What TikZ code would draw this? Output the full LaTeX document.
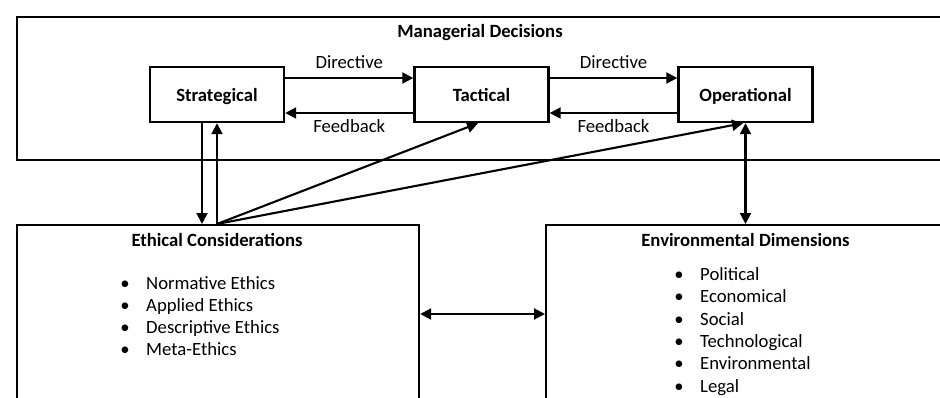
\documentclass[tikz,border=0pt]{standalone}
\usepackage{fontspec}
\setmainfont{Carlito}
\usetikzlibrary{arrows.meta}
\newcommand\mysize{\fontsize{18.7}{22.5}\selectfont}
\begin{document}
\begin{tikzpicture}[x=1pt,y=-1pt,
  box/.style={draw, line width=2.4pt, minimum width=134pt, minimum height=55pt, inner sep=0pt,
              font=\mysize\bfseries, text height=14pt, text depth=0pt},
  frame/.style={draw, line width=2.2pt, anchor=north west, inner sep=0pt},
  arr/.style={line width=2.1pt, -{Triangle[length=11pt,width=11pt]}},
  darr/.style={line width=2.1pt, {Triangle[length=11pt,width=11pt]}-{Triangle[length=11pt,width=11pt]}},
  lbl/.style={anchor=base, inner sep=0pt, font=\mysize},
  ttl/.style={anchor=base, inner sep=0pt, font=\mysize\bfseries},
  ]
\useasboundingbox (0,0) rectangle (940,397);

% frames
\node[frame, minimum width=960pt, minimum height=143pt] (mgr) at (16,16) {};
\node[ttl] (mgrt) at (480,37.5) {Managerial Decisions};
\node[frame, minimum width=402pt, minimum height=200pt] (eth) at (16,224) {};
\node[ttl] (etht) at (217,246) {Ethical Considerations};
\node[frame, minimum width=420pt, minimum height=200pt] (env) at (545,224) {};
\node[ttl] (envt) at (745.5,246) {Environmental Dimensions};

% decision boxes
\node[box] (strat) at (217,94.5) {Strategical};
\node[box] (tact) at (481.5,94.5) {Tactical};
\node[box] (op) at (745.5,94.5) {Operational};

% directive / feedback
\draw[arr] (strat.east |- 0,78) -- node[lbl, midway, yshift=10pt] (d1) {Directive} (tact.west |- 0,78);
\draw[arr] (tact.west |- 0,113) -- node[lbl, midway, yshift=-19.5pt] (f1) {Feedback} (strat.east |- 0,113);
\draw[arr] (tact.east |- 0,78) -- node[lbl, midway, yshift=10pt] (d2) {Directive} (op.west |- 0,78);
\draw[arr] (op.west |- 0,113) -- node[lbl, midway, yshift=-19.5pt] (f2) {Feedback} (tact.east |- 0,113);

% verticals and diagonals
\coordinate (hub) at (strat.south |- eth.north);
\draw[arr] ([xshift=-15pt]strat.south) -- ([xshift=-15pt]strat.south |- eth.north);
\draw[arr] (hub) -- (strat.south);
\draw[arr] (hub) -- ([xshift=-3.5pt]tact.south);
\draw[arr] (hub) -- ([xshift=-2.5pt]op.south);
\draw[darr] (op.south) -- (op.south |- env.north);
\draw[darr] (eth.east |- 0,314) -- (env.west |- 0,314);

% lists
\foreach [count=\i] \t in {Normative Ethics, Applied Ethics, Descriptive Ethics, Meta-Ethics} {
  \node[lbl] (eb\i) at (125,{267.1+22.2*\i}) {\textbullet};
  \node[lbl, anchor=base west] (et\i) at (146,{267.1+22.2*\i}) {\t};
}
\foreach [count=\i] \t in {Political, Economical, Social, Technological, Environmental, Legal} {
  \node[lbl] (vb\i) at (679,{258.2+22.3*\i}) {\textbullet};
  \node[lbl, anchor=base west] (vt\i) at (700,{258.2+22.3*\i}) {\t};
}
\end{tikzpicture}
\end{document}
